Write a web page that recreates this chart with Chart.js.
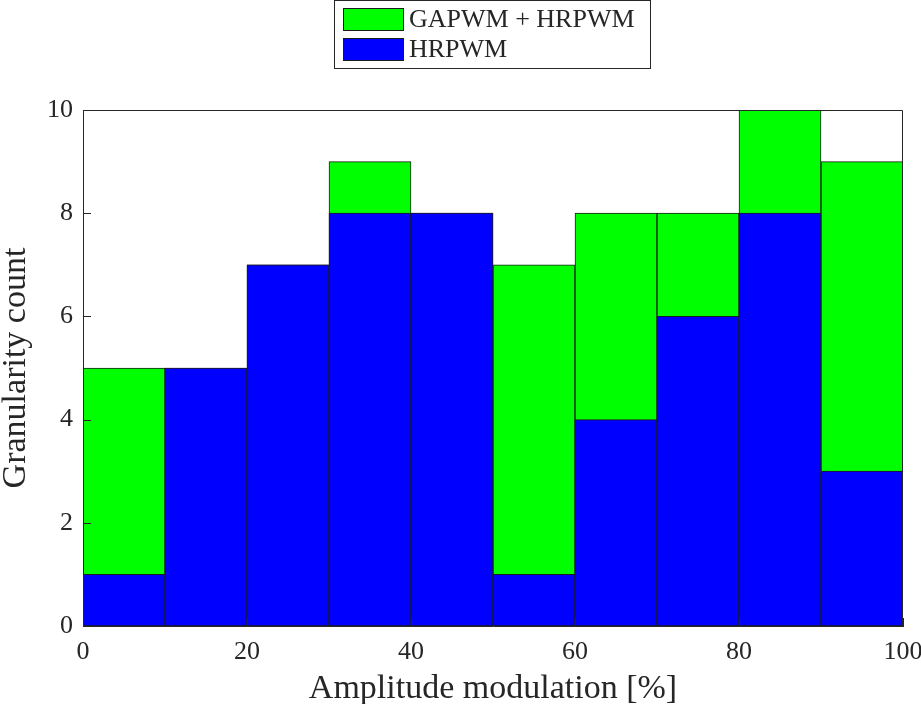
<!DOCTYPE html>
<html>
<head>
<meta charset="utf-8">
<script src="https://cdn.jsdelivr.net/npm/chart.js@4.4.1/dist/chart.umd.min.js"></script>
<style>
  html, body { margin: 0; padding: 0; background: #fff; }
  #wrap { width: 921px; height: 704px; position: relative; }
</style>
</head>
<body>
<div id="wrap"><canvas id="c" width="921" height="704"></canvas></div>
<script>
// Histogram bins of amplitude modulation (%)
const binEdges = [0, 10, 20, 30, 40, 50, 60, 70, 80, 90, 100];
const gapwmHrpwm = [5, 5, 7, 9, 8, 7, 8, 8, 10, 9];
const hrpwm = [1, 5, 7, 8, 8, 1, 4, 6, 8, 3];
const xTicks = [0, 20, 40, 60, 80, 100];
const yTicks = [0, 2, 4, 6, 8, 10];

const seriesNames = ['GAPWM + HRPWM', 'HRPWM'];
const FONT = '"Liberation Serif", "DejaVu Serif", serif';
const EDGE = '#1c1c1c';
const TEXT = '#262626';

const centers = binEdges.slice(0, -1).map((e, i) => (e + binEdges[i + 1]) / 2);
const toPoints = vals => vals.map((v, i) => ({ x: centers[i], y: v }));

// Inside tick marks plus the top/right box lines
const boxPlugin = {
  id: 'box',
  afterDatasetsDraw(chart) {
    const { ctx, chartArea: a, scales } = chart;
    ctx.save();
    ctx.strokeStyle = TEXT;
    ctx.lineWidth = 1;
    ctx.beginPath();
    ctx.moveTo(a.left + 0.5, a.top + 0.5);
    ctx.lineTo(a.right - 0.5, a.top + 0.5);
    ctx.lineTo(a.right - 0.5, a.bottom);
    ctx.moveTo(a.left + 0.5, a.top);
    ctx.lineTo(a.left + 0.5, a.bottom);
    ctx.stroke();
    const len = 8;
    ctx.beginPath();
    yTicks.forEach(t => {
      const y = Math.round(scales.y.getPixelForValue(t)) + 0.5;
      ctx.moveTo(a.left, y); ctx.lineTo(a.left + len, y);
    });
    xTicks.forEach(t => {
      const x = Math.round(scales.x.getPixelForValue(t)) + 0.5;
      ctx.moveTo(x, a.bottom); ctx.lineTo(x, a.bottom - len);
    });
    ctx.stroke();
    ctx.restore();
  }
};

// Boxed legend, entries stacked vertically
const stackedLegend = {
  id: 'stackedLegend',
  afterDraw(chart) {
    const { ctx } = chart;
    const x0 = 334, y0 = 0, w = 317, h = 69;
    ctx.save();
    ctx.fillStyle = '#fff';
    ctx.fillRect(x0, y0, w, h);
    ctx.strokeStyle = TEXT;
    ctx.lineWidth = 1;
    ctx.strokeRect(x0 + 0.5, y0 + 0.5, w - 1, h - 1);
    ctx.font = '26px ' + FONT;
    ctx.textBaseline = 'middle';
    chart.data.datasets.forEach((ds, i) => {
      const cy = 19 + i * 30;
      ctx.fillStyle = ds.backgroundColor;
      ctx.fillRect(x0 + 9, cy - 11, 61, 23);
      ctx.strokeStyle = EDGE;
      ctx.strokeRect(x0 + 9.5, cy - 10.5, 60, 22);
      ctx.fillStyle = TEXT;
      ctx.fillText(ds.label, x0 + 75, cy + 1);
    });
    ctx.restore();
  }
};

new Chart(document.getElementById('c'), {
  type: 'bar',
  data: {
    datasets: [
      {
        label: seriesNames[0],
        data: toPoints(gapwmHrpwm),
        backgroundColor: '#00ff00',
        borderColor: EDGE,
        borderWidth: 1,
        borderSkipped: false,
        order: 2
      },
      {
        label: seriesNames[1],
        data: toPoints(hrpwm),
        backgroundColor: '#0000ff',
        borderColor: EDGE,
        borderWidth: 1,
        borderSkipped: false,
        order: 1
      }
    ]
  },
  options: {
    responsive: false,
    animation: false,
    devicePixelRatio: 1,
    layout: { padding: { top: 110, right: 18, left: 0, bottom: 0 } },
    datasets: { bar: { barPercentage: 1, categoryPercentage: 1, grouped: false } },
    plugins: {
      legend: { display: false },
      tooltip: { enabled: false }
    },
    scales: {
      x: {
        type: 'linear',
        min: 0, max: 100,
        offset: false,
        afterBuildTicks: s => { s.ticks = xTicks.map(v => ({ value: v })); },
        afterFit: s => { s.height = 78; s.paddingLeft = 0; s.paddingRight = 0; },
        grid: { display: false, drawTicks: false },
        border: { display: true, color: TEXT },
        ticks: { color: TEXT, font: { family: FONT, size: 26 }, padding: 11, maxRotation: 0 },
        title: { display: true, text: 'Amplitude modulation [%]', color: TEXT, font: { family: FONT, size: 34 }, padding: { top: 0, bottom: -5 } }
      },
      y: {
        min: 0, max: 10,
        afterBuildTicks: s => { s.ticks = yTicks.map(v => ({ value: v })); },
        afterFit: s => { s.width = 83; s.paddingTop = 0; s.paddingBottom = 0; },
        grid: { display: false, drawTicks: false },
        border: { display: true, color: TEXT },
        ticks: { color: TEXT, font: { family: FONT, size: 26 }, padding: 10 },
        title: { display: true, text: 'Granularity count', color: TEXT, font: { family: FONT, size: 34 }, padding: { top: -4, bottom: 0 } }
      }
    }
  },
  plugins: [boxPlugin, stackedLegend]
});
</script>
</body>
</html>
